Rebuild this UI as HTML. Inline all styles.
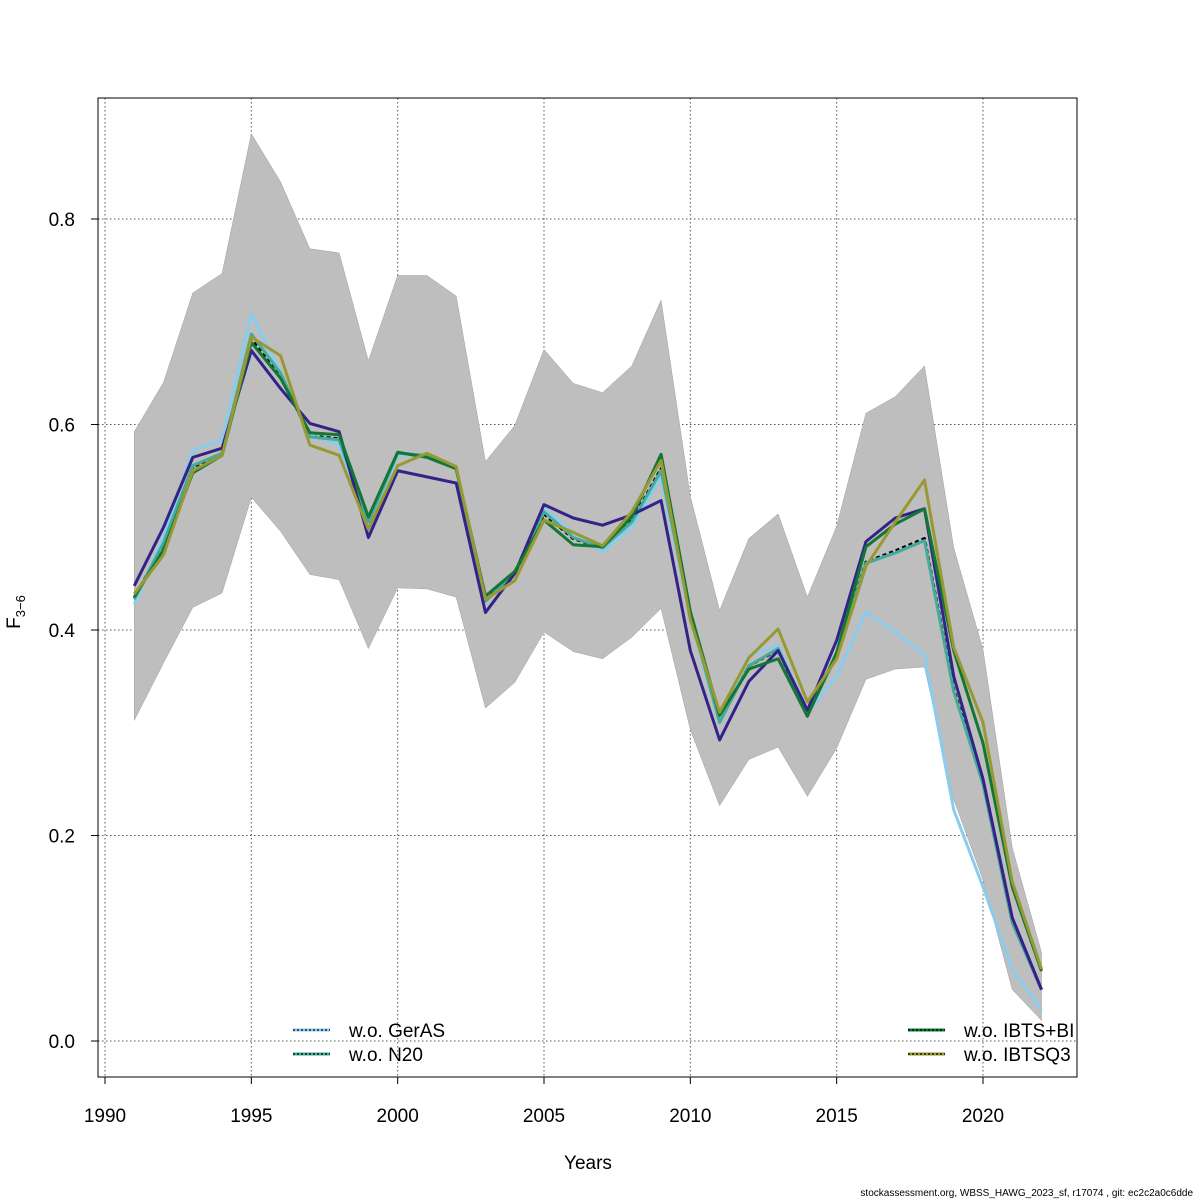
<!DOCTYPE html>
<html><head><meta charset="utf-8"><style>
body{margin:0;background:#fff;}
svg{display:block;font-family:"Liberation Sans",sans-serif;}
</style></head><body>
<svg id="chart" width="1200" height="1200">
<defs><clipPath id="plotclip"><rect x="98" y="98" width="979" height="979"/></clipPath></defs>
<g id="grid"></g>
<g id="band" clip-path="url(#plotclip)"></g>
<g id="lines" clip-path="url(#plotclip)"></g>
<rect x="98" y="98" width="979" height="979" fill="none" stroke="#000" stroke-width="1"/>
<g id="axes"></g>
<g id="legend" clip-path="url(#plotclip)"></g>
<text x="588" y="1169" font-size="19" text-anchor="middle">Years</text>
<text transform="translate(20,612) rotate(-90)" font-size="19" text-anchor="middle">F<tspan font-size="13" dy="5">3−6</tspan></text>
<text x="1193" y="1196" font-size="10" text-anchor="end">stockassessment.org, WBSS_HAWG_2023_sf, r17074 , git: ec2c2a0c6dde</text>
</svg>
<script>
const years=[1991,1992,1993,1994,1995,1996,1997,1998,1999,2000,2001,2002,2003,2004,2005,2006,2007,2008,2009,2010,2011,2012,2013,2014,2015,2016,2017,2018,2019,2020,2021,2022];
const upper=[0.593,0.641,0.728,0.747,0.883,0.836,0.771,0.767,0.662,0.745,0.745,0.725,0.564,0.599,0.673,0.640,0.631,0.657,0.721,0.530,0.419,0.489,0.513,0.432,0.501,0.611,0.627,0.657,0.480,0.381,0.188,0.086];
const lower=[0.312,0.368,0.422,0.436,0.529,0.496,0.454,0.449,0.382,0.441,0.440,0.432,0.324,0.349,0.398,0.379,0.372,0.393,0.421,0.303,0.229,0.274,0.286,0.238,0.285,0.352,0.362,0.364,0.235,0.157,0.050,0.020];
const base=[0.431,0.484,0.559,0.571,0.684,0.648,0.589,0.586,0.506,0.572,0.570,0.557,0.429,0.455,0.513,0.489,0.480,0.506,0.557,0.415,0.311,0.365,0.381,0.318,0.376,0.466,0.477,0.489,0.342,0.252,0.116,0.050];
const gerAS=[0.425,0.490,0.575,0.585,0.708,0.650,0.590,0.580,0.495,0.570,0.570,0.557,0.428,0.455,0.518,0.495,0.476,0.500,0.550,0.410,0.310,0.375,0.385,0.320,0.355,0.418,0.398,0.376,0.225,0.150,0.070,0.030];
const n20=[0.430,0.485,0.560,0.572,0.688,0.650,0.588,0.585,0.505,0.572,0.570,0.557,0.428,0.455,0.515,0.490,0.480,0.505,0.555,0.415,0.310,0.365,0.382,0.318,0.375,0.465,0.475,0.487,0.340,0.250,0.115,0.050];
const ibtsBI=[0.432,0.478,0.553,0.570,0.680,0.645,0.592,0.590,0.510,0.573,0.568,0.557,0.433,0.457,0.507,0.483,0.481,0.510,0.571,0.418,0.317,0.362,0.372,0.316,0.378,0.481,0.503,0.518,0.380,0.290,0.150,0.068];
const ibtsQ3=[0.435,0.473,0.555,0.570,0.685,0.667,0.580,0.570,0.498,0.560,0.572,0.559,0.430,0.448,0.507,0.495,0.482,0.515,0.565,0.410,0.320,0.373,0.401,0.330,0.372,0.462,0.505,0.546,0.383,0.310,0.155,0.070];
const other=[0.443,0.500,0.568,0.577,0.672,0.635,0.601,0.593,0.490,0.555,0.549,0.543,0.417,0.455,0.522,0.509,0.502,0.512,0.526,0.380,0.293,0.350,0.380,0.322,0.390,0.486,0.509,0.518,0.355,0.255,0.120,0.050];
const xTicks=[1990,1995,2000,2005,2010,2015,2020];
const yTicks=[0,0.2,0.4,0.6,0.8];
const yTickLabels=["0.0","0.2","0.4","0.6","0.8"];

const NS="http://www.w3.org/2000/svg";
function X(v){return 105+(v-1990)*(983-105)/30;}
function Y(v){return 1041-v*(1041-219)/0.8;}
function mk(tag,attrs,parent){const e=document.createElementNS(NS,tag);for(const k in attrs)e.setAttribute(k,attrs[k]);parent.appendChild(e);return e;}
const grid=document.getElementById('grid'),axes=document.getElementById('axes');
xTicks.forEach(t=>{
  const g=mk('line',{x1:X(t),x2:X(t),y1:98,y2:1077,stroke:'#555','stroke-dasharray':'1.5,2.5','stroke-width':1},grid);
  
  
  const tk=mk('line',{x1:X(t),x2:X(t),y1:1077,y2:1084,stroke:'#000'},axes);
  
  
  const tx=mk('text',{x:X(t),y:1122,'font-size':19,'text-anchor':'middle'},axes);
  tx.textContent=t;
  
  
});
yTicks.forEach((t,i)=>{
  const g=mk('line',{x1:98,x2:1077,y1:Y(t),y2:Y(t),stroke:'#555','stroke-dasharray':'1.5,2.5','stroke-width':1},grid);
  
  
  const tk=mk('line',{x1:91,x2:98,y1:Y(t),y2:Y(t),stroke:'#000'},axes);
  
  
  const tx=mk('text',{x:75,y:Y(t)+7,'font-size':19,'text-anchor':'end'},axes);
  tx.textContent=yTickLabels[i];
  
  
});
// band
let pts=years.map((y,i)=>X(y)+','+Y(upper[i]));
for(let i=years.length-1;i>=0;i--)pts.push(X(years[i])+','+Y(lower[i]));
const band=mk('polygon',{points:pts.join(' '),fill:'#bebebe',stroke:'#a0a0a0','stroke-width':0.5},document.getElementById('band'));


const L=document.getElementById('lines');
function line(vals,color,name,dash){
  const p=mk('polyline',{points:years.map((y,i)=>X(y)+','+Y(vals[i])).join(' '),fill:'none',stroke:color,'stroke-width':3,'stroke-linejoin':'round'},L);
  if(dash)p.setAttribute('stroke-dasharray',dash);
  
  
}
line(base,'#000','line-base','4,3');
line(gerAS,'#88ccee','line-wo-gerAS');
line(n20,'#44aa99','line-wo-n20');
line(other,'#332288','line-wo-other');
line(ibtsBI,'#117733','line-wo-ibts-bi');
line(ibtsQ3,'#999933','line-wo-ibtsq3');
// legend
const LG=document.getElementById('legend');
const entries=[[293,1030,'#88ccee','w.o. GerAS'],[293,1054,'#44aa99','w.o. N20'],[908,1030,'#117733','w.o. IBTS+BI'],[908,1054,'#999933','w.o. IBTSQ3']];
entries.forEach(e=>{
  const l=mk('line',{x1:e[0],x2:e[0]+37,y1:e[1],y2:e[1],stroke:e[2],'stroke-width':3},LG);
  
  
  const d=mk('line',{x1:e[0],x2:e[0]+37,y1:e[1],y2:e[1],stroke:'#000','stroke-width':1.2,'stroke-dasharray':'2,2'},LG);
  
  
  const t=mk('text',{x:e[0]+56,y:e[1]+7,'font-size':19},LG);
  t.textContent=e[3];
  
  
});
</script>
</body></html>
